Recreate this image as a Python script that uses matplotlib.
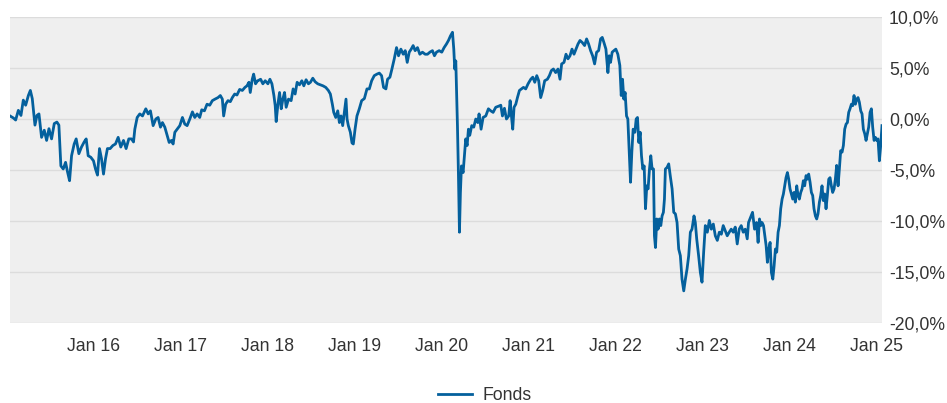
import datetime as dt
import matplotlib
matplotlib.use("Agg")
import matplotlib.pyplot as plt
import matplotlib.dates as mdates
from matplotlib.ticker import FuncFormatter

# readings: decimal year, performance in %
years = [
    2015.044, 2015.083, 2015.109, 2015.140, 2015.170, 2015.197, 2015.224, 2015.255, 2015.278, 2015.300,
    2015.331, 2015.354, 2015.377, 2015.407, 2015.438, 2015.465, 2015.492, 2015.522, 2015.553, 2015.583,
    2015.606, 2015.629, 2015.656, 2015.683, 2015.706, 2015.729, 2015.752, 2015.782, 2015.805, 2015.836,
    2015.866, 2015.897, 2015.920, 2015.943, 2015.973, 2016.004, 2016.027, 2016.050, 2016.073, 2016.096,
    2016.119, 2016.142, 2016.164, 2016.195, 2016.226, 2016.256, 2016.287, 2016.317, 2016.348, 2016.378,
    2016.409, 2016.440, 2016.463,
    2016.478, 2016.505, 2016.535, 2016.566, 2016.604, 2016.631, 2016.657, 2016.688, 2016.719, 2016.745,
    2016.772, 2016.795, 2016.822, 2016.849, 2016.872, 2016.898, 2016.917, 2016.937, 2016.963, 2016.994,
    2017.024, 2017.051, 2017.078, 2017.109, 2017.139, 2017.166, 2017.193, 2017.223, 2017.246, 2017.277,
    2017.307, 2017.338, 2017.368, 2017.399, 2017.433, 2017.460, 2017.483, 2017.498, 2017.521, 2017.548,
    2017.575, 2017.598, 2017.625, 2017.651, 2017.682, 2017.713, 2017.743, 2017.766, 2017.789, 2017.804,
    2017.827, 2017.843, 2017.865, 2017.888,
    2017.892, 2017.923, 2017.949, 2017.976, 2018.007, 2018.030, 2018.053, 2018.076, 2018.091, 2018.102,
    2018.122, 2018.141, 2018.160, 2018.179, 2018.198, 2018.217, 2018.244, 2018.274, 2018.297, 2018.320,
    2018.343, 2018.370, 2018.397, 2018.420, 2018.446, 2018.473, 2018.496, 2018.523, 2018.550, 2018.580,
    2018.611, 2018.641, 2018.672, 2018.702, 2018.725, 2018.748, 2018.764, 2018.787, 2018.810, 2018.829,
    2018.848, 2018.867, 2018.886, 2018.905, 2018.917, 2018.932, 2018.955, 2018.974, 2018.989, 2019.009,
    2019.031, 2019.058, 2019.085, 2019.116, 2019.146, 2019.173, 2019.200, 2019.230, 2019.261, 2019.288,
    2019.314, 2019.337,
    2019.364, 2019.383, 2019.410, 2019.433, 2019.460, 2019.486, 2019.509, 2019.536, 2019.563, 2019.586,
    2019.609, 2019.632, 2019.655, 2019.677, 2019.700, 2019.727, 2019.754, 2019.784, 2019.815, 2019.842,
    2019.869, 2019.899, 2019.922, 2019.945, 2019.976, 2020.006, 2020.033, 2020.060, 2020.083, 2020.106,
    2020.129, 2020.144, 2020.155, 2020.167, 2020.186, 2020.197, 2020.209, 2020.220, 2020.232, 2020.251,
    2020.266, 2020.281, 2020.297, 2020.312, 2020.327, 2020.350, 2020.373, 2020.396, 2020.419, 2020.434,
    2020.457, 2020.480, 2020.511, 2020.541, 2020.568, 2020.595, 2020.625, 2020.656, 2020.683, 2020.702,
    2020.725, 2020.748,
    2020.774, 2020.790, 2020.805, 2020.820, 2020.835, 2020.855, 2020.874, 2020.897, 2020.920, 2020.943,
    2020.969, 2020.996, 2021.027, 2021.050, 2021.073, 2021.096, 2021.118, 2021.141, 2021.164, 2021.187,
    2021.218, 2021.241, 2021.264, 2021.287, 2021.313, 2021.340, 2021.363, 2021.382, 2021.409, 2021.432,
    2021.455, 2021.478, 2021.501, 2021.524, 2021.547, 2021.570, 2021.593, 2021.619, 2021.646, 2021.669,
    2021.692, 2021.715, 2021.738, 2021.761, 2021.784, 2021.807, 2021.830, 2021.849, 2021.868, 2021.891,
    2021.914, 2021.929, 2021.944, 2021.963, 2021.983, 2022.005, 2022.028, 2022.051, 2022.067, 2022.082,
    2022.097, 2022.112, 2022.128, 2022.143, 2022.158, 2022.174, 2022.189, 2022.204,
    2022.224, 2022.239, 2022.254, 2022.269, 2022.285, 2022.300, 2022.315, 2022.331, 2022.346, 2022.361,
    2022.376, 2022.392, 2022.407, 2022.422, 2022.438, 2022.449, 2022.461, 2022.476, 2022.491, 2022.506,
    2022.522, 2022.537, 2022.552, 2022.564, 2022.575, 2022.594, 2022.613, 2022.633, 2022.652, 2022.671,
    2022.690, 2022.709, 2022.728, 2022.747, 2022.766, 2022.786, 2022.805, 2022.824, 2022.843, 2022.862,
    2022.881, 2022.904, 2022.919, 2022.935, 2022.957, 2022.977, 2022.996, 2023.015, 2023.034, 2023.057,
    2023.080, 2023.103, 2023.126, 2023.149, 2023.172, 2023.195, 2023.218, 2023.240, 2023.263, 2023.286,
    2023.309, 2023.332, 2023.355, 2023.378, 2023.401, 2023.424, 2023.447, 2023.470, 2023.493, 2023.516,
    2023.531, 2023.554, 2023.577, 2023.600, 2023.623,
    2023.641, 2023.657, 2023.672, 2023.687, 2023.703, 2023.718, 2023.733, 2023.748, 2023.764, 2023.779,
    2023.794, 2023.810, 2023.825, 2023.840, 2023.855, 2023.871, 2023.886, 2023.901, 2023.917, 2023.932,
    2023.947, 2023.962, 2023.978, 2023.993, 2024.008, 2024.024, 2024.039, 2024.054, 2024.069, 2024.085,
    2024.100, 2024.115, 2024.131, 2024.146, 2024.161, 2024.176, 2024.192, 2024.207, 2024.222, 2024.238,
    2024.253, 2024.268, 2024.283, 2024.299, 2024.314, 2024.329, 2024.345, 2024.360, 2024.375, 2024.390,
    2024.406, 2024.421, 2024.436, 2024.452, 2024.467, 2024.482, 2024.497, 2024.513, 2024.528, 2024.543,
    2024.559, 2024.574, 2024.589, 2024.605, 2024.620, 2024.635, 2024.651, 2024.666, 2024.681, 2024.696,
    2024.712, 2024.727, 2024.742, 2024.758, 2024.773, 2024.788, 2024.803, 2024.819, 2024.834, 2024.849,
    2024.865, 2024.880, 2024.895, 2024.910, 2024.926, 2024.941, 2024.956, 2024.972, 2024.987, 2025.002,
    2025.017, 2025.033, 2025.048, 2025.063,
]
values = [
    0.3, 0.1, -0.1, 0.85, 0.35, 1.85, 1.35, 2.3, 2.8, 2.0,
    -0.6, 0.35, 0.5, -1.8, -1.1, -2.1, -0.95, -1.95, -0.45, -0.3,
    -0.6, -4.6, -4.9, -4.25, -5.2, -6.05, -3.6, -2.45, -1.95, -3.4,
    -2.75, -2.25, -1.95, -3.6, -3.75, -4.1, -4.9, -5.5, -2.9, -3.9,
    -5.4, -3.9, -2.9, -2.9, -2.6, -2.45, -1.8, -2.75, -2.1, -2.9,
    -1.95, -1.95, -2.25,
    -1.0, 0.15, 0.5, 0.3, 1.0, 0.5, 0.8, -0.65, 0.0, 0.15,
    -0.8, -0.35, -0.8, -1.6, -2.3, -2.1, -2.45, -1.3, -1.0, -0.65,
    0.15, -0.5, -0.65, 0.0, 0.7, 0.15, 0.5, 0.15, 0.9, 0.8,
    1.45, 1.35, 1.8, 1.95, 2.1, 2.3, 1.95, 0.3, 1.45, 1.8,
    1.7, 2.1, 2.45, 2.35, 2.9, 2.8, 3.1, 3.25, 3.6, 2.6,
    3.9, 4.4, 3.45, 3.75,
    3.75, 3.9, 3.45, 3.75, 3.45, 3.9, 3.45, 2.3, 1.3, -0.25,
    1.45, 2.6, 1.0, 1.95, 2.6, 1.15, 1.95, 1.8, 2.95, 2.45,
    3.6, 3.35, 3.75, 3.25, 3.85, 3.45, 3.6, 4.0, 3.65, 3.45,
    3.35, 3.25, 3.1, 2.8, 2.45, 1.45, 0.65, 0.15, 0.8, -0.35,
    0.3, -0.65, 0.65, 1.95, 0.0, -0.65, -1.3, -2.35, -2.45, -1.0,
    0.3, 1.0, 1.8, 2.0, 2.95, 2.95, 3.75, 4.25, 4.4, 4.5,
    4.25, 3.1,
    2.95, 3.9, 4.1, 4.9, 5.9, 7.0, 6.2, 6.85, 6.35, 6.7,
    5.55, 6.55, 6.85, 7.2, 6.7, 7.0, 6.35, 6.55, 6.35, 6.35,
    6.55, 6.7, 6.2, 6.55, 6.7, 6.55, 7.0, 7.35, 7.7, 8.15,
    8.5, 6.85, 4.9, 5.7, -0.65, -5.25, -11.1, -7.2, -4.6, -5.25,
    -3.6, -1.95, -2.6, -1.0, -1.6, -0.65, -0.8, 0.0, -0.35, 0.5,
    -1.0, 0.15, 0.3, 1.0, 0.8, 0.65, 1.15, 1.25, 1.35, 0.3,
    1.05, 0.0,
    0.3, 1.8, 0.3, -1.0, 1.15, 1.45, 2.1, 2.8, 2.95, 3.1,
    2.95, 3.45, 3.9, 4.1, 3.6, 4.25, 3.75, 2.1, 2.8, 3.75,
    3.9, 4.25, 4.75, 4.9, 4.55, 4.9, 3.9, 5.4, 5.55, 6.35,
    5.9, 6.2, 6.85, 6.35, 6.85, 7.35, 7.7, 7.5, 7.2, 7.85,
    7.35, 6.7, 6.2, 5.4, 6.55, 6.7, 7.85, 8.0, 7.5, 6.85,
    4.55, 6.2, 5.55, 6.55, 6.7, 6.85, 6.35, 5.25, 2.3, 3.9,
    1.95, 2.6, 0.3, 0.0, -3.1, -6.2, -3.25, -1.0,
    -1.3, 0.0, 0.15, -2.3, -1.3, -3.6, -4.9, -4.6, -8.8, -6.55,
    -6.85, -4.9, -3.6, -4.9, -4.9, -11.45, -12.6, -9.8, -10.8, -9.8,
    -10.45, -9.5, -9.15, -7.85, -4.9, -4.75, -4.4, -5.7, -6.85, -9.15,
    -9.3, -10.15, -12.75, -13.4, -15.7, -16.85, -15.7, -14.7, -13.4, -11.1,
    -10.8, -9.5, -10.15, -11.75, -13.4, -15.05, -16.0, -13.05, -10.45, -11.1,
    -9.95, -10.8, -10.3, -11.45, -11.9, -11.1, -11.3, -10.45, -10.95, -11.45,
    -11.1, -10.8, -11.1, -10.6, -12.25, -10.8, -10.45, -11.1, -10.8, -11.75,
    -10.15, -9.65, -9.15, -10.8, -10.15,
    -12.1, -9.8, -10.45, -10.15, -10.45, -11.45, -12.4, -14.05, -12.75, -12.1,
    -15.05, -15.7, -14.4, -12.75, -13.05, -11.1, -10.45, -8.8, -7.85, -7.35,
    -6.55, -5.75, -5.25, -5.9, -6.85, -7.35, -7.85, -7.2, -8.15, -6.55,
    -7.5, -7.85, -7.2, -6.85, -6.05, -6.55, -5.55, -5.9, -5.4, -6.2,
    -7.2, -7.5, -8.8, -9.5, -9.8, -9.3, -8.15, -7.5, -6.55, -8.0,
    -7.35, -8.8, -7.5, -5.9, -5.75, -6.55, -7.2, -6.85, -5.9, -4.55,
    -6.55, -4.9, -3.1, -3.25, -2.6, -1.0, -0.5, -0.35, 0.65, 1.0,
    1.45, 1.3, 2.3, 1.45, 1.95, 2.1, 1.65, 0.8, 0.5, -1.0,
    -1.45, -2.1, -1.45, -0.8, 0.65, 1.0, -0.8, -2.1, -1.8, -2.1,
    -1.95, -4.1, -2.6, -0.65,
]

y_ticks = [-20, -15, -10, -5, 0, 5, 10]
tick_years = list(range(2016, 2026))
series_name = "Fonds"


def to_date(y):
    year = int(y)
    start = dt.datetime(year, 1, 1)
    return start + (dt.datetime(year + 1, 1, 1) - start) * (y - year)


dates = [to_date(y) for y in years]

plt.rcParams['font.family'] = ['Liberation Sans', 'DejaVu Sans']
W, H = 947, 403
fig = plt.figure(figsize=(W / 100, H / 100), dpi=100)
ax = fig.add_axes([10 / W, 1 - 323 / H, 872 / W, 306 / H])
ax.set_facecolor('#efefef')

ax.plot(dates, values, color='#04609d', lw=2.0, label=series_name, solid_joinstyle='round')

ax.set_ylim(-20, 10)
ax.set_xlim(dates[0], dates[-1])
ax.set_yticks(y_ticks)
ax.yaxis.tick_right()
ax.yaxis.set_major_formatter(FuncFormatter(lambda v, p: f"{v:.1f}%".replace('.', ',')))
ax.set_xticks([dt.datetime(y, 1, 1) for y in tick_years])
ax.xaxis.set_major_formatter(mdates.DateFormatter('%b %y'))

ax.grid(axis='y', color='#dcdcdc', lw=1)
ax.set_axisbelow(True)
for s in ax.spines.values():
    s.set_visible(False)

ax.tick_params(axis='both', length=0, labelsize=12.7, colors='#333333')
ax.tick_params(axis='x', pad=11)
ax.tick_params(axis='y', pad=5)

fig.legend(loc='center', bbox_to_anchor=(485 / W, 1 - 396 / H), frameon=False,
           fontsize=12.7, handlelength=1.9, handletextpad=0.6, labelcolor='#333333')

fig.savefig('out.png', dpi=100)
